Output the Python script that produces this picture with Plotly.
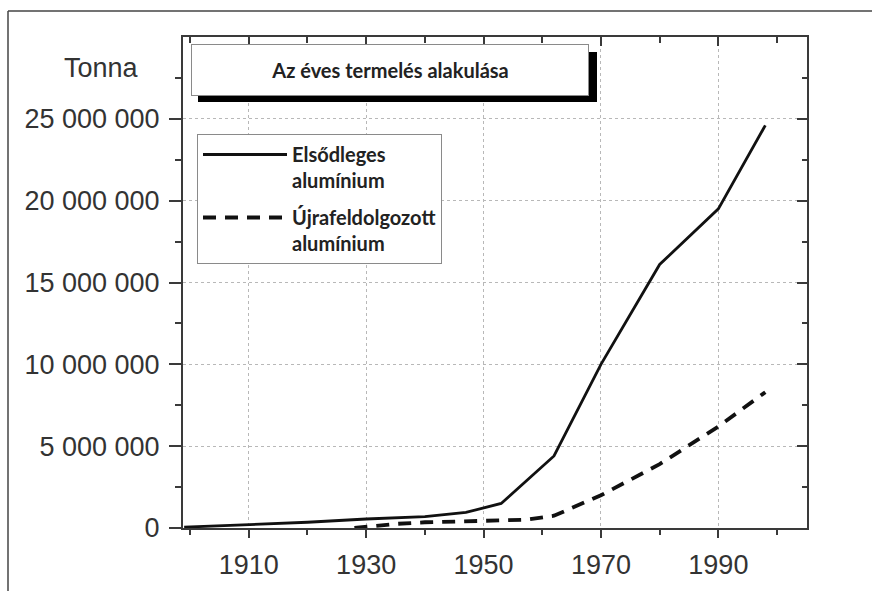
import plotly.graph_objects as go

# ---- data ----
primary_years = [1899, 1910, 1920, 1930, 1940, 1947, 1953, 1962, 1970, 1980, 1990, 1998]
primary_tonnes = [50000, 200000, 350000, 550000, 700000, 950000, 1500000, 4400000,
                  10000000, 16100000, 19500000, 24600000]

recycled_years = [1928, 1935, 1940, 1950, 1957, 1962, 1970, 1980, 1990, 1998]
recycled_tonnes = [0, 250000, 350000, 450000, 500000, 750000, 2000000, 3900000,
                   6200000, 8300000]

series_names = ["Elsődleges<br>alumínium", "Újrafeldolgozott<br>alumínium"]
x_tick_vals = [1910, 1930, 1950, 1970, 1990]
x_minor_vals = [1900, 1920, 1940, 1960, 1980, 2000]
y_tick_vals = [0, 5000000, 10000000, 15000000, 20000000, 25000000]
y_tick_text = ["0", "5 000 000", "10 000 000", "15 000 000", "20 000 000", "25 000 000"]
y_minor_vals = [2500000, 7500000, 12500000, 17500000, 22500000, 27500000]
title_text = "Az éves termelés alakulása"
y_unit = "Tonna"

# ---- geometry helpers (pixel -> paper) ----
W, H = 872, 591
L, R, T, B = 183, 65, 37, 63
PW, PH = W - L - R, H - T - B


def px(x):
    return (x - L) / PW


def py(y):
    return (H - B - y) / PH


X_RANGE = [1898.8, 2005.1]
Y_RANGE = [0, 30000000]

fig = go.Figure()
fig.add_trace(go.Scatter(x=primary_years, y=primary_tonnes, mode="lines",
                         name=series_names[0], legendgroup="a",
                         line=dict(color="#111111", width=2.8)))
# second series is drawn on the mirrored (top/right) axes, which share the same ranges
fig.add_trace(go.Scatter(x=recycled_years, y=recycled_tonnes, mode="lines",
                         name=series_names[1], legendgroup="b",
                         xaxis="x2", yaxis="y2",
                         line=dict(color="#111111", width=3.8, dash="13px,9px")))

axis_col = "#3a3a3a"
grid_col = "#b8b8b8"
tick_font = dict(family="Liberation Sans, Arial, sans-serif", size=27, color="#333333")
label_font = dict(family="Lato, sans-serif", size=20, color="#222222", weight="bold")

fig.update_layout(
    width=W, height=H,
    margin=dict(l=L, r=R, t=T, b=B, pad=0),
    paper_bgcolor="white", plot_bgcolor="white",
    showlegend=True,
    legend=dict(x=px(197), y=py(134), xanchor="left", yanchor="top",
                bgcolor="white", bordercolor="#8a8a8a", borderwidth=1,
                font=label_font, itemwidth=84, valign="top",
                entrywidth=195, entrywidthmode="pixels",
                traceorder="grouped", tracegroupgap=8),
    xaxis=dict(range=X_RANGE, tickvals=x_tick_vals, ticks="outside", ticklen=8,
               tickwidth=2, tickcolor=axis_col, showline=True, linecolor=axis_col,
               linewidth=2, showgrid=True, gridcolor=grid_col, gridwidth=1,
               griddash="dot", zeroline=False, tickfont=tick_font,
               ticklabelstandoff=4,
               minor=dict(tickvals=x_minor_vals, ticks="outside", ticklen=5,
                          tickwidth=2, tickcolor=axis_col, showgrid=False)),
    yaxis=dict(range=Y_RANGE, tickvals=y_tick_vals, ticktext=y_tick_text,
               ticks="outside", ticklen=12, tickwidth=2, tickcolor=axis_col,
               showline=True, linecolor=axis_col, linewidth=2, showgrid=True,
               gridcolor=grid_col, gridwidth=1, griddash="dot", zeroline=False,
               tickfont=tick_font, ticklabelstandoff=4,
               minor=dict(tickvals=y_minor_vals, ticks="outside", ticklen=6,
                          tickwidth=2, tickcolor=axis_col, showgrid=False)),
    xaxis2=dict(range=X_RANGE, overlaying="x", side="top", anchor="y2",
                tickvals=x_tick_vals, ticks="inside", ticklen=9, tickwidth=2,
                tickcolor=axis_col, showline=True, linecolor=axis_col, linewidth=2,
                showticklabels=False, showgrid=False, zeroline=False,
                minor=dict(tickvals=x_minor_vals, ticks="inside", ticklen=6,
                           tickwidth=2, tickcolor=axis_col, showgrid=False)),
    yaxis2=dict(range=Y_RANGE, overlaying="y", side="right", anchor="x2",
                tickvals=y_tick_vals, ticks="inside", ticklen=10, tickwidth=2,
                tickcolor=axis_col, showline=True, linecolor=axis_col, linewidth=2,
                showticklabels=False, showgrid=False, zeroline=False,
                minor=dict(tickvals=y_minor_vals, ticks="inside", ticklen=5,
                           tickwidth=2, tickcolor=axis_col, showgrid=False)),
    shapes=[
        # outer frame of the figure
        dict(type="line", xref="paper", yref="paper", x0=px(8), x1=px(872), y0=py(11), y1=py(11),
             line=dict(color="#444444", width=1.5)),
        dict(type="line", xref="paper", yref="paper", x0=px(8), x1=px(8), y0=py(11), y1=py(595),
             line=dict(color="#444444", width=1.5)),
        # shadow of the title box
        dict(type="rect", xref="paper", yref="paper", x0=px(198), x1=px(597),
             y0=py(102), y1=py(52), fillcolor="black", line=dict(width=0), layer="above"),
    ],
    annotations=[
        dict(text=title_text, xref="paper", yref="paper", x=px(390), y=py(70),
             xanchor="center", yanchor="middle", showarrow=False,
             width=394, height=48, bgcolor="white", bordercolor="#8a8a8a", borderwidth=1,
             font=label_font),
        dict(text=y_unit, xref="paper", yref="paper", x=px(101), y=py(68),
             xanchor="center", yanchor="middle", showarrow=False,
             font=tick_font),
    ],
)

fig.write_html("out.html", config={"displayModeBar": False},
               post_script="document.body.style.margin='0';")
